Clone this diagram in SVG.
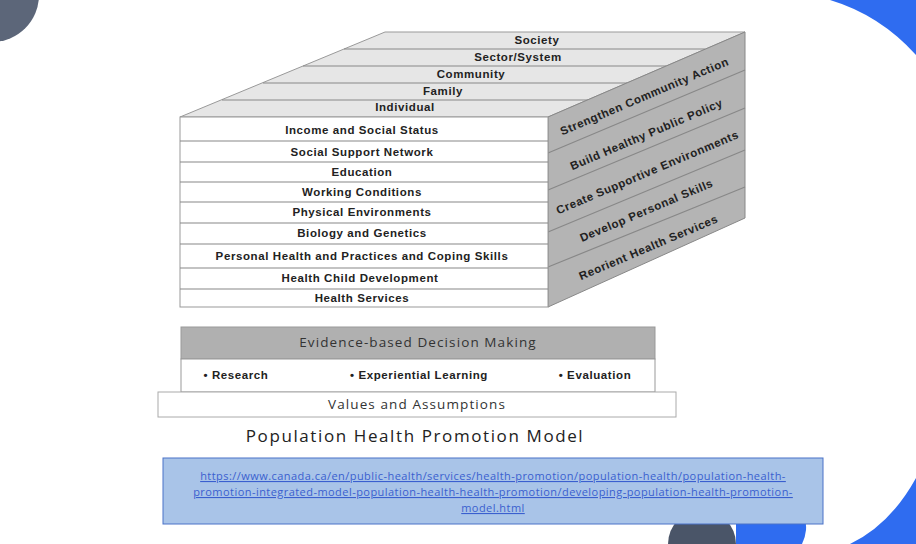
<svg xmlns="http://www.w3.org/2000/svg" width="916" height="544" viewBox="0 0 916 544">
<style>
.b{font-family:"Liberation Sans",Arial,sans-serif;font-weight:bold;font-size:11.5px;letter-spacing:0.6px;fill:#222;text-anchor:middle}
.r{font-family:"Open Sans","Liberation Sans",sans-serif;font-size:13.5px;letter-spacing:1.1px;fill:#333;text-anchor:middle}
.ln{stroke:#888;stroke-width:1.2;fill:none}
.link{font-family:"Open Sans","Liberation Sans",sans-serif;font-size:11px;letter-spacing:0.45px;fill:#3a5fcf;text-decoration:underline;text-anchor:middle}
</style>
<rect width="916" height="544" fill="#fff"/>
<g id="decor">
<circle cx="-8" cy="-5" r="47" fill="#5c6679"/>
<path d="M830 0 Q880 15 916 55 L916 0Z" fill="#2f6cf0"/>
<path d="M668 544 A34 34 0 0 1 736 544Z" fill="#4a5568"/>
<path d="M736 544 L736 510 A34 34 0 0 1 802 544Z" fill="#2f6cf0"/>
<path d="M850 544 Q890 525 916 478 L916 544Z" fill="#2f6cf0"/>
</g>
<g id="top">
<polygon points="180,117 548,117 745,32 385,32" fill="#e6e6e6" stroke="#999"/>
<path class="ln" d="M344,49 L705,49 M303,66 L666,66 M263,83 L627,83 M222,100 L588,100"/>
<text class="b" x="537" y="44">Society</text>
<text class="b" x="518" y="61">Sector/System</text>
<text class="b" x="471" y="78">Community</text>
<text class="b" x="443" y="95">Family</text>
<text class="b" x="405" y="111">Individual</text>
</g>
<g id="side">
<polygon points="548,117 745,32 745,218 548,307" fill="#b4b4b4" stroke="#888"/>
<path class="ln" d="M548,153 L745,70 M548,190 L745,108 M548,232 L745,150 M548,267 L745,187"/>
<text class="b" transform="translate(646,100) rotate(-23)">Strengthen Community Action</text>
<text class="b" transform="translate(648,138) rotate(-23)">Build Healthy Public Policy</text>
<text class="b" transform="translate(649,176) rotate(-23)">Create Supportive Environments</text>
<text class="b" transform="translate(648,214) rotate(-23)">Develop Personal Skills</text>
<text class="b" transform="translate(650,251) rotate(-23)">Reorient Health Services</text>
</g>
<g id="front">
<rect x="180" y="117" width="368" height="190" fill="#fff" stroke="#999"/>
<path class="ln" d="M180,141H548M180,162H548M180,182H548M180,202H548M180,223H548M180,244H548M180,268H548M180,289H548"/>
<text class="b" x="362" y="134">Income and Social Status</text>
<text class="b" x="362" y="156">Social Support Network</text>
<text class="b" x="362" y="176">Education</text>
<text class="b" x="362" y="196">Working Conditions</text>
<text class="b" x="362" y="216">Physical Environments</text>
<text class="b" x="362" y="237">Biology and Genetics</text>
<text class="b" x="362" y="260">Personal Health and Practices and Coping Skills</text>
<text class="b" x="360" y="282">Health Child Development</text>
<text class="b" x="362" y="302">Health Services</text>
</g>
<g id="evidence">
<rect x="181" y="327" width="474" height="32" fill="#b0b0b0" stroke="#999"/>
<text class="r" x="418" y="347">Evidence-based Decision Making</text>
<rect x="181" y="359" width="474" height="33" fill="#fff" stroke="#999"/>
<text class="b" x="236" y="379">• Research</text>
<text class="b" x="419" y="379">• Experiential Learning</text>
<text class="b" x="595" y="379">• Evaluation</text>
</g>
<g id="values">
<rect x="158" y="392" width="518" height="25" fill="#fff" stroke="#aaa"/>
<text class="r" x="417" y="409">Values and Assumptions</text>
</g>
<text x="415" y="442" font-family="'Open Sans','Liberation Sans',sans-serif" font-size="17" letter-spacing="1.6" fill="#222" text-anchor="middle">Population Health Promotion Model</text>
<g id="linkbox">
<rect x="163" y="458" width="660" height="66" fill="#a9c4e8" stroke="#4a72c8"/>
<text class="link" x="493" y="480">https://www.canada.ca/en/public-health/services/health-promotion/population-health/population-health-</text>
<text class="link" x="493" y="496">promotion-integrated-model-population-health-health-promotion/developing-population-health-promotion-</text>
<text class="link" x="493" y="512">model.html</text>
</g>
</svg>
